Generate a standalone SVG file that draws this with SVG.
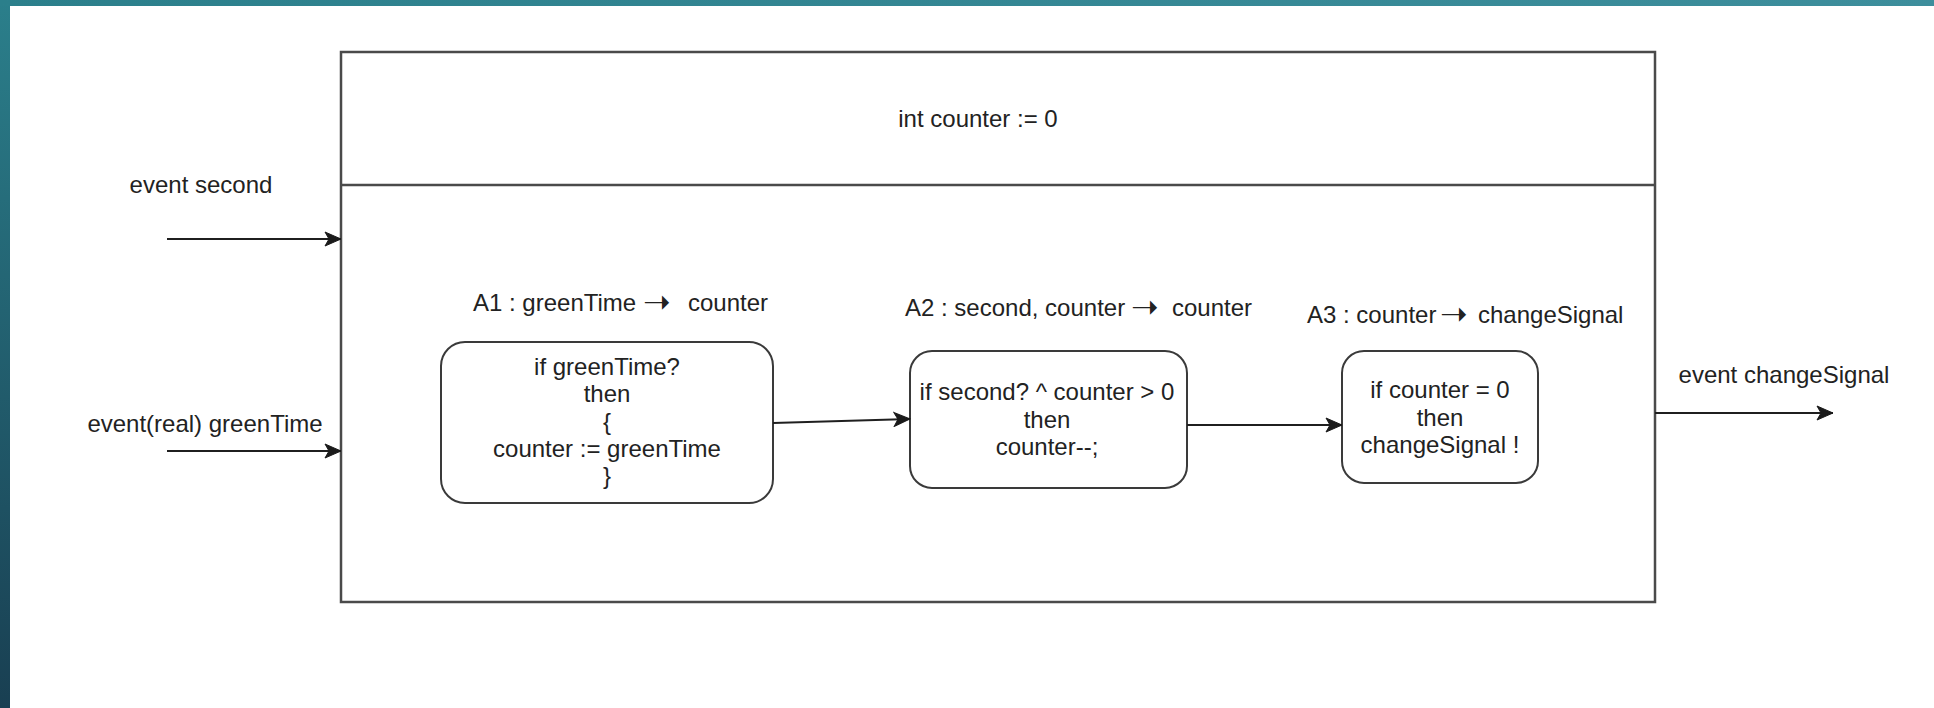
<svg xmlns="http://www.w3.org/2000/svg" width="1934" height="708" viewBox="0 0 1934 708">
  <defs>
    <linearGradient id="frameV" x1="0" y1="0" x2="0" y2="1">
      <stop offset="0" stop-color="#2b7f8b"/>
      <stop offset="1" stop-color="#193f52"/>
    </linearGradient>
    <linearGradient id="frameH" x1="0" y1="0" x2="1" y2="0">
      <stop offset="0" stop-color="#2b7f8b"/>
      <stop offset="1" stop-color="#3d8e9c"/>
    </linearGradient>
    <marker id="arrow" markerUnits="userSpaceOnUse" markerWidth="18" markerHeight="16" viewBox="0 0 18 16" refX="17" refY="8" orient="auto">
      <path d="M1,1 L17,8 L1,15 L5,8 Z" fill="#1a1a1a" stroke="#1a1a1a" stroke-width="1" stroke-linejoin="miter"/>
    </marker>
    <style>
      .t { font-family: "Liberation Sans", Arial, sans-serif; font-size: 24px; fill: #222; }
      .m { text-anchor: middle; }
      .sym { font-family: "DejaVu Sans", sans-serif; font-size: 33px; }
      .box { fill: #ffffff; stroke: #3a3a3a; stroke-width: 2; }
      .frame { fill: #ffffff; stroke: #4a4a4a; stroke-width: 2.5; }
      .edge { fill: none; stroke: #1f1f1f; stroke-width: 2; marker-end: url(#arrow); }
    </style>
  </defs>

  <!-- background frame -->
  <rect x="0" y="0" width="1934" height="708" fill="url(#frameV)"/>
  <rect x="0" y="0" width="1934" height="6" fill="url(#frameH)"/>
  <rect x="10" y="6" width="1924" height="702" fill="#ffffff"/>

  <!-- container -->
  <g id="container">
    <rect class="frame" x="341" y="52" width="1314" height="550"/>
    <line x1="341" y1="185" x2="1655" y2="185" stroke="#4a4a4a" stroke-width="2.5"/>
    <text class="t m" x="978" y="127">int counter := 0</text>
  </g>

  <!-- A1 -->
  <g id="A1">
    <text class="t" y="311"><tspan x="473">A1 : greenTime</tspan><tspan class="sym" x="643" dy="2">➝</tspan><tspan x="688" dy="-2">counter</tspan></text>
    <rect class="box" x="441" y="342" width="332" height="161" rx="24" ry="24"/>
    <text class="t m" x="607" y="375">if greenTime?</text>
    <text class="t m" x="607" y="402">then</text>
    <text class="t m" x="607" y="430">{</text>
    <text class="t m" x="607" y="457">counter := greenTime</text>
    <text class="t m" x="607" y="484">}</text>
  </g>

  <!-- A2 -->
  <g id="A2">
    <text class="t" y="316"><tspan x="905">A2 : second, counter</tspan><tspan class="sym" x="1131" dy="2">➝</tspan><tspan x="1172" dy="-2">counter</tspan></text>
    <rect class="box" x="910" y="351" width="277" height="137" rx="22" ry="22"/>
    <text class="t m" x="1047" y="400">if second? ^ counter &gt; 0</text>
    <text class="t m" x="1047" y="428">then</text>
    <text class="t m" x="1047" y="455">counter--;</text>
  </g>

  <!-- A3 -->
  <g id="A3">
    <text class="t" y="323"><tspan x="1307">A3 : counter</tspan><tspan class="sym" x="1440" dy="2">➝</tspan><tspan x="1478" dy="-2">changeSignal</tspan></text>
    <rect class="box" x="1342" y="351" width="196" height="132" rx="22" ry="22"/>
    <text class="t m" x="1440" y="398">if counter = 0</text>
    <text class="t m" x="1440" y="426">then</text>
    <text class="t m" x="1440" y="453">changeSignal !</text>
  </g>

  <!-- event labels -->
  <g id="in-second">
    <text class="t m" x="201" y="193">event second</text>
  </g>
  <g id="in-greenTime">
    <text class="t m" x="205" y="432">event(real) greenTime</text>
  </g>
  <g id="out-changeSignal">
    <text class="t m" x="1784" y="383">event changeSignal</text>
  </g>

  <!-- connectors -->
  <g id="connectors">
    <line class="edge" x1="167" y1="239" x2="341" y2="239"/>
    <line class="edge" x1="167" y1="451" x2="341" y2="451"/>
    <line class="edge" x1="773" y1="423" x2="910" y2="419"/>
    <line class="edge" x1="1187" y1="425" x2="1342" y2="425"/>
    <line class="edge" x1="1655" y1="413" x2="1833" y2="413"/>
  </g>
</svg>
